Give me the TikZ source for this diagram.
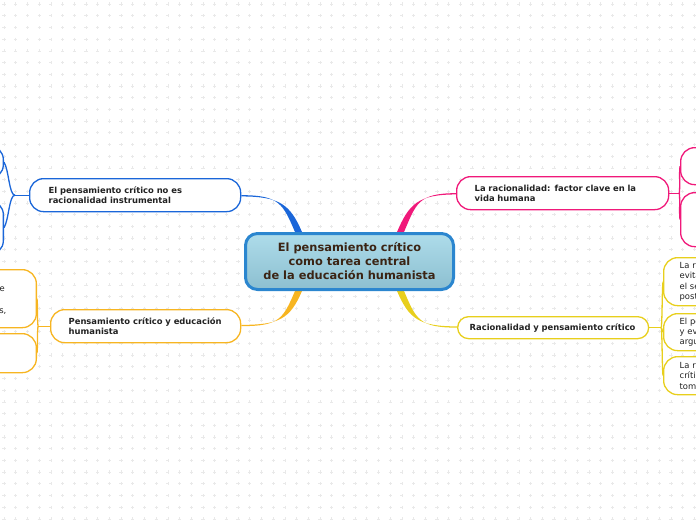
\documentclass[tikz,border=0pt]{standalone}
\usepackage{fontspec}
\setmainfont{DejaVu Sans}
\usetikzlibrary{positioning, backgrounds}
\definecolor{mmblue}{HTML}{1A66D9}
\definecolor{mmpink}{HTML}{F0197A}
\definecolor{mmorange}{HTML}{F7B521}
\definecolor{mmyellow}{HTML}{E8CF1C}
\definecolor{mmtext}{HTML}{222222}
\definecolor{mmbrown}{HTML}{3B2414}
\definecolor{cenborder}{HTML}{2B86CF}
\definecolor{centop}{HTML}{AEDCEA}
\definecolor{cenbot}{HTML}{8CBFD0}
\definecolor{gridcross}{HTML}{E9E9E9}

\begin{document}
\begin{tikzpicture}[x=1pt, y=-1pt,
    topic/.style={draw, fill=white, line width=1.3pt, rounded corners=14pt,
          anchor=north west, align=left, text=mmtext, inner ysep=0pt,
          font=\fontsize{8.4}{10.2}\selectfont\bfseries},
    subbox/.style={draw, fill=white, line width=1.3pt, rounded corners=14pt,
          align=left, text=mmtext, inner ysep=0pt,
          font=\fontsize{8.4}{10.4}\selectfont},
    branch/.style={line width=1.3pt}]
    \clip (0,0) rectangle (696,520);
    % central topic
    \node[draw=cenborder, line width=3pt, rounded corners=12pt,
          top color=centop, bottom color=cenbot, anchor=north west,
          minimum width=208, minimum height=56, align=center, text=mmbrown,
          font=\fontsize{11.4}{14}\selectfont\bfseries] (c) at (244,232)
          {El pensamiento crítico\\como tarea central\\de la educación humanista};
    % main topics
    \node[topic, draw=mmblue, minimum height=33, text width=173, inner xsep=19] (t1) at (29,178)
          {El pensamiento crítico no es\\racionalidad instrumental};
    \node[topic, draw=mmorange, minimum height=33, text width=154, inner xsep=18] (t2) at (50,309)
          {Pensamiento crítico y educación\\humanista};
    \node[topic, draw=mmpink, minimum height=33, text width=176, inner xsep=18] (t3) at (456,176)
          {La racionalidad: factor clave en la\\vida humana};
    \node[topic, draw=mmyellow, rounded corners=11pt, minimum height=22, text width=167, inner xsep=12] (t4) at (457,316)
          {Racionalidad y pensamiento crítico};
    % sub topics, cut by the page edge
    \node[subbox, draw=mmblue, anchor=north east, minimum width=150, minimum height=33] (b1) at (4,145) {};
    \node[subbox, draw=mmblue, anchor=north east, minimum width=150, minimum height=54] (b2) at (4,200) {};
    \node[subbox, draw=mmorange, anchor=north east, minimum width=150, minimum height=58] (o1) at (37,269) {};
    \node[subbox, draw=mmorange, anchor=north east, minimum width=150, minimum height=39] (o2) at (37,333) {};
    \node[mmtext, font=\fontsize{8.4}{10.4}\selectfont, anchor=base east, inner sep=0] (o1a) at (5,291) {e};
    \node[mmtext, font=\fontsize{8.4}{10.4}\selectfont, anchor=base east, inner sep=0] (o1b) at (6.5,313) {s,};
    \node[subbox, draw=mmpink, anchor=north west, minimum width=150, minimum height=37] (p1) at (680,147) {};
    \node[subbox, draw=mmpink, anchor=north west, minimum width=150, minimum height=54] (p2) at (680,192) {};
    \node[subbox, draw=mmyellow, anchor=north west, minimum height=48, text width=120, inner xsep=16] (y1) at (663,257)
          {La ra\\evita\\el se\\post};
    \node[subbox, draw=mmyellow, anchor=north west, minimum height=37, text width=120, inner xsep=16] (y2) at (663,313)
          {El pe\\y ev\\argu};
    \node[subbox, draw=mmyellow, anchor=north west, minimum height=38, text width=120, inner xsep=16] (y3) at (663,356)
          {La r\\crític\\tom};

    \begin{pgfonlayer}{background}
      % dotted grid
      \foreach \i in {0,...,60} {
        \foreach \j in {0,...,45} {
          \draw[gridcross, line width=0.5pt] (4+11.7*\i-1.6,4+11.7*\j) -- ++(3.2,0)
                (4+11.7*\i,4+11.7*\j-1.6) -- ++(0,3.2);
        }
      }
      % tapered links to the centre
      \fill[mmblue] (t1.east) .. controls +(38,0) and +(-12,-28) .. ([xshift=51]c.north west)
            -- ([xshift=58]c.north west) .. controls +(-12,-28) and +(38,0) .. ([yshift=-1.3]t1.east) -- cycle;
      \fill[mmpink] (t3.west) .. controls +(-38,0) and +(12,-28) .. ([xshift=-51]c.north east)
            -- ([xshift=-58]c.north east) .. controls +(12,-28) and +(-38,0) .. ([yshift=-1.3]t3.west) -- cycle;
      \fill[mmorange] (t2.east) .. controls +(38,0) and +(-12,28) .. ([xshift=51]c.south west)
            -- ([xshift=58]c.south west) .. controls +(-12,28) and +(38,0) .. ([yshift=1.3]t2.east) -- cycle;
      \fill[mmyellow] (t4.west) .. controls +(-38,0) and +(12,28) .. ([xshift=-51]c.south east)
            -- ([xshift=-58]c.south east) .. controls +(12,28) and +(-38,0) .. ([yshift=1.3]t4.west) -- cycle;
      % links to the sub topics
      \draw[branch, mmblue] (t1.west) -- ++(-14,0) coordinate (bj);
      \draw[branch, mmblue] (bj) .. controls +(-6,0) and +(5,8) .. (b1.east);
      \draw[branch, mmblue] (bj) .. controls +(-6,0) and +(5,-8) .. (b2.east);
      \draw[branch, mmorange] (t2.west) -- ++(-12,0) coordinate (oj);
      \draw[branch, mmorange] (oj) .. controls +(-1,-10) and +(1,10) .. (o1.east);
      \draw[branch, mmorange] (oj) .. controls +(-1,10) and +(1,-10) .. (o2.east);
      \draw[branch, mmpink] (t3.east) -- ++(10,0) coordinate (pj);
      \draw[branch, mmpink] (pj) .. controls +(1,-10) and +(-1,10) .. (p1.west);
      \draw[branch, mmpink] (pj) .. controls +(1,10) and +(-1,-10) .. (p2.west);
      \draw[branch, mmyellow] (t4.east) -- ++(12,0) coordinate (yj);
      \draw[branch, mmyellow] (yj) .. controls +(1,-10) and +(-1,10) .. (y1.west);
      \draw[branch, mmyellow] (yj) -- (y2.west);
      \draw[branch, mmyellow] (yj) .. controls +(1,10) and +(-1,-10) .. (y3.west);
    \end{pgfonlayer}
\end{tikzpicture}
\end{document}
